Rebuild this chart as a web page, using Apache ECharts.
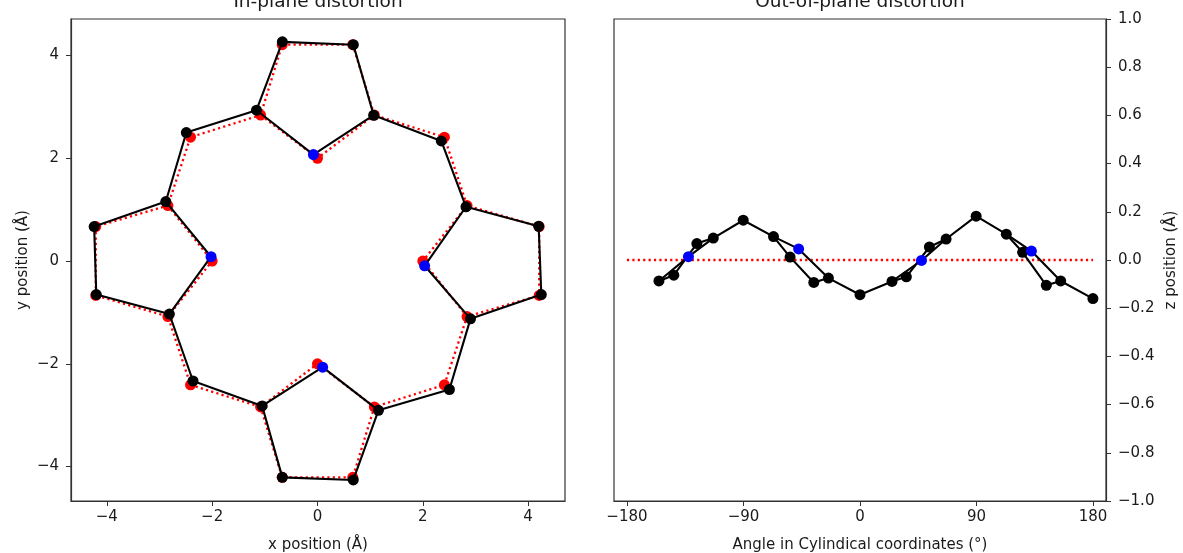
<!DOCTYPE html>
<html><head><meta charset="utf-8">
<script src="https://cdn.jsdelivr.net/npm/echarts@6/dist/echarts.min.js"></script>
<style>html,body{margin:0;padding:0;background:#fff}#c{width:1183px;height:553px}</style>
</head><body><div id="c"></div>
<script>
// ---- Distorted (measured) macrocycle: outer ring atoms, in ring order ----
const ringX = [-1.05, -0.667, 0.68, 1.158, 2.505, 2.905, 4.25, 4.20, 2.82, 2.351, 1.067, 0.681, -0.667, -1.158, -2.49, -2.88, -4.24, -4.20, -2.812, -2.363];
const ringY = [-2.82, -4.21, -4.26, -2.905, -2.50, -1.125, -0.653, 0.677, 1.056, 2.337, 2.837, 4.21, 4.265, 2.935, 2.50, 1.157, 0.67, -0.652, -1.032, -2.335];
const ringAngle = [-155.3, -143.8, -126.0, -113.3, -90.2, -66.8, -54.0, -35.7, -24.4, 0.0, 24.7, 35.8, 53.6, 66.5, 89.7, 113.0, 125.6, 143.9, 155.0, 179.9];
const ringZ = [-0.087, -0.063, 0.068, 0.091, 0.165, 0.097, 0.012, -0.093, -0.075, -0.144, -0.089, -0.070, 0.054, 0.087, 0.182, 0.107, 0.032, -0.105, -0.087, -0.160];
// ---- Pyrrole nitrogens (blue) ----
const nX = [0.098, 2.035, -0.077, -2.021];
const nY = [-2.065, -0.093, 2.071, 0.084];
const nAngle = [-132.5, -47.4, 47.5, 132.4];
const nZ = [0.014, 0.046, -0.002, 0.037];
// each N is bonded to these two ring atoms (indices into ring arrays)
const nLinks = [[0, 3], [5, 8], [10, 13], [15, 18]];
// ---- Ideal (reference) geometry, red ----
const idealX = [-1.08, -0.67, 0.67, 1.08, 2.41, 2.84, 4.21, 4.21, 2.84, 2.41, 1.08, 0.67, -0.67, -1.08, -2.41, -2.84, -4.21, -4.21, -2.84, -2.41];
const idealY = [-2.84, -4.21, -4.21, -2.84, -2.41, -1.08, -0.67, 0.67, 1.08, 2.41, 2.84, 4.21, 4.21, 2.84, 2.41, 1.08, 0.67, -0.67, -1.08, -2.41];
const idealNX = [0, 2.0, 0, -2.0];
const idealNY = [-2.0, 0, 2.0, 0];
const refAngle = [-180, 180];
const refZ = [0, 0];
// ---- Tick labels ----
const xTicksLeft = [-4, -2, 0, 2, 4];
const yTicksLeft = [-4, -2, 0, 2, 4];
const xTicksRight = [-180, -90, 0, 90, 180];

const FONT = 'DejaVu Sans';
const TXT = '#1a1a1a';
const AX = '#333333';
const minus = v => (v < 0 ? '\u2212' + String(Math.abs(v)) : String(v));
const minus1 = v => (v < 0 ? '\u2212' + Math.abs(v).toFixed(1) : v.toFixed(1));

function pts(xs, ys, closed) {
  const d = xs.map((x, i) => [x, ys[i]]);
  if (closed) d.push([xs[0], ys[0]]);
  return d;
}
function linkSeries(rx, ry, nx, ny, style, xi, z) {
  return nLinks.map((lk, k) => ({
    type: 'line', xAxisIndex: xi, yAxisIndex: xi, z: z,
    data: [[rx[lk[0]], ry[lk[0]]], [nx[k], ny[k]], [rx[lk[1]], ry[lk[1]]]],
    showSymbol: false, lineStyle: style, silent: true
  }));
}
const blackLine = { color: '#000', width: 2.1 };
const redLine = { color: '#ff0000', width: 2.3, type: [2.2, 3.2] };
function scatter(data, color, xi, z) {
  return { type: 'scatter', xAxisIndex: xi, yAxisIndex: xi, z: z, data: data,
    symbol: 'circle', symbolSize: 11, itemStyle: { color: color, opacity: 1 }, silent: true };
}

const series = [];
// Left panel: ideal (red)
series.push({ type: 'line', xAxisIndex: 0, yAxisIndex: 0, z: 2, data: pts(idealX, idealY, true), showSymbol: false, lineStyle: redLine, silent: true });
series.push(...linkSeries(idealX, idealY, idealNX, idealNY, redLine, 0, 2));
series.push(scatter(pts(idealX, idealY).concat(pts(idealNX, idealNY)), '#ff0000', 0, 3));
// Left panel: distorted (black)
series.push({ type: 'line', xAxisIndex: 0, yAxisIndex: 0, z: 4, data: pts(ringX, ringY, true), showSymbol: false, lineStyle: blackLine, silent: true });
series.push(...linkSeries(ringX, ringY, nX, nY, blackLine, 0, 4));
series.push(scatter(pts(ringX, ringY), '#000000', 0, 5));
series.push(scatter(pts(nX, nY), '#0000ff', 0, 6));
// Right panel
series.push({ type: 'line', xAxisIndex: 1, yAxisIndex: 1, z: 2, data: pts(refAngle, refZ), showSymbol: false, lineStyle: redLine, silent: true });
series.push({ type: 'line', xAxisIndex: 1, yAxisIndex: 1, z: 4, data: pts(ringAngle, ringZ), showSymbol: false, lineStyle: blackLine, silent: true });
series.push(...linkSeries(ringAngle, ringZ, nAngle, nZ, blackLine, 1, 4));
series.push(scatter(pts(ringAngle, ringZ), '#000000', 1, 5));
series.push(scatter(pts(nAngle, nZ), '#0000ff', 1, 6));

const labelStyle = { color: TXT, fontFamily: FONT, fontSize: 15 };
const nameStyle = { color: TXT, fontFamily: FONT, fontSize: 15 };
function axisCommon() {
  return {
    axisLine: { show: true, onZero: false, lineStyle: { color: AX, width: 1.2 } },
    splitLine: { show: false },
    nameTextStyle: nameStyle
  };
}

const option = {
  animation: false,
  backgroundColor: '#fff',
  grid: [
    { left: 71, top: 19, width: 494, height: 482, show: true, borderColor: AX, borderWidth: 1.2, containLabel: false, outerBoundsMode: 'none' },
    { left: 614, top: 19, width: 492, height: 482, show: true, borderColor: AX, borderWidth: 1.2, containLabel: false, outerBoundsMode: 'none' }
  ],
  xAxis: [
    Object.assign(axisCommon(), { type: 'value', gridIndex: 0, min: -4.68, max: 4.70, position: 'bottom',
      name: 'x position (\u00c5)', nameLocation: 'middle', nameGap: 37,
      axisTick: { show: true, inside: false, length: 5, lineStyle: { color: AX }, customValues: xTicksLeft },
      axisLabel: Object.assign({ margin: 9, formatter: minus, customValues: xTicksLeft }, labelStyle) }),
    Object.assign(axisCommon(), { type: 'value', gridIndex: 1, min: -190, max: 190, position: 'bottom',
      name: 'Angle in Cylindical coordinates (\u00b0)', nameLocation: 'middle', nameGap: 37,
      axisTick: { show: true, inside: false, length: 5, lineStyle: { color: AX }, customValues: xTicksRight },
      axisLabel: Object.assign({ margin: 9, formatter: minus, customValues: xTicksRight }, labelStyle) })
  ],
  yAxis: [
    Object.assign(axisCommon(), { type: 'value', gridIndex: 0, min: -4.67, max: 4.71, position: 'left',
      name: 'y position (\u00c5)', nameLocation: 'middle', nameGap: 40, nameRotate: 90,
      axisTick: { show: true, inside: false, length: 5, lineStyle: { color: AX }, customValues: yTicksLeft },
      axisLabel: Object.assign({ margin: 12, formatter: minus, customValues: yTicksLeft }, labelStyle) }),
    Object.assign(axisCommon(), { type: 'value', gridIndex: 1, min: -1, max: 1, interval: 0.2, position: 'right',
      name: 'z position (\u00c5)', nameLocation: 'middle', nameGap: 58, nameRotate: 90,
      axisTick: { show: true, inside: false, length: 5, lineStyle: { color: AX } },
      axisLabel: Object.assign({ margin: 12, formatter: minus1 }, labelStyle) })
  ],
  graphic: [
    { type: 'text', x: 318, y: 2, silent: true, style: { text: 'In-plane distortion', fontFamily: FONT, fontSize: 18.5, fill: TXT, align: 'center', verticalAlign: 'middle' } },
    { type: 'text', x: 860, y: 2, silent: true, style: { text: 'Out-of-plane distortion', fontFamily: FONT, fontSize: 18.5, fill: TXT, align: 'center', verticalAlign: 'middle' } }
  ],
  series: series
};
const chart = echarts.init(document.getElementById('c'), null, { renderer: 'canvas' });
chart.setOption(option);
</script></body></html>
